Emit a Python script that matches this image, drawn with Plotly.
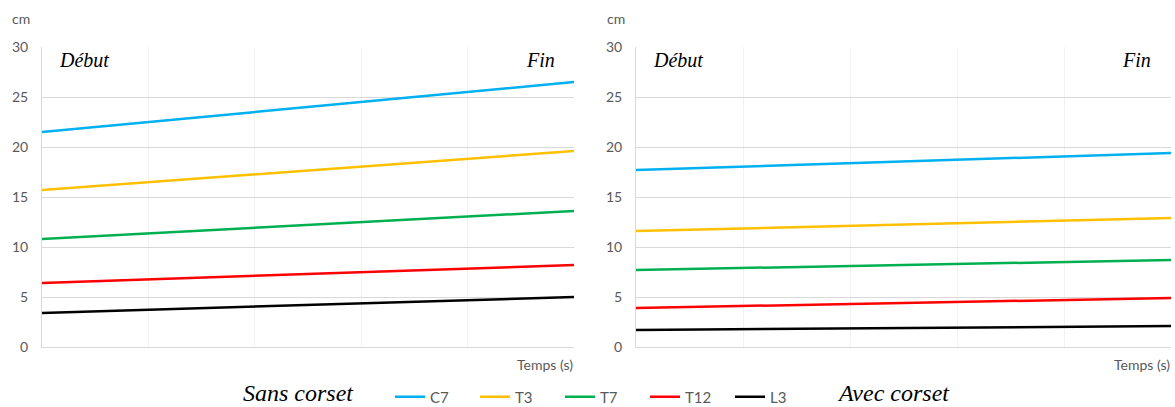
import plotly.graph_objects as go

# time axis (start / end of the recording)
temps = [0, 10]

series = ["C7", "T3", "T7", "T12", "L3"]
colors = ["#00b0f0", "#ffc000", "#00b050", "#ff0000", "#000000"]

# cm, start -> end
sans_corset = {
    "C7": [21.5, 26.5],
    "T3": [15.7, 19.6],
    "T7": [10.8, 13.6],
    "T12": [6.4, 8.2],
    "L3": [3.4, 5.0],
}
avec_corset = {
    "C7": [17.7, 19.4],
    "T3": [11.6, 12.9],
    "T7": [7.7, 8.7],
    "T12": [3.9, 4.9],
    "L3": [1.7, 2.1],
}

W, H = 1175, 407
grid = "#d9d9d9"
sans = "Lato, 'Open Sans', sans-serif"
tick_font = dict(family=sans, size=14, color="#595959")
serif_it = "'Liberation Serif', 'DejaVu Serif', serif"

fig = go.Figure()

for name, color in zip(series, colors):
    fig.add_trace(
        go.Scatter(
            x=temps,
            y=sans_corset[name],
            mode="lines",
            line=dict(color=color, width=2.5),
            name=name,
            xaxis="x",
            yaxis="y",
        )
    )
for name, color in zip(series, colors):
    fig.add_trace(
        go.Scatter(
            x=temps,
            y=avec_corset[name],
            mode="lines",
            line=dict(color=color, width=2.5),
            name=name,
            showlegend=False,
            xaxis="x2",
            yaxis="y2",
        )
    )

ydom = [1 - 347 / H, 1 - 47 / H]
xdom1 = [42 / W, 574 / W]
xdom2 = [636 / W, 1171 / W]

xaxis_style = dict(
    range=[0, 10],
    dtick=2,
    showgrid=True,
    gridcolor="#f2f2f2",
    gridwidth=1,
    showline=True,
    linecolor=grid,
    linewidth=1,
    zeroline=False,
    showticklabels=False,
    ticks="",
)
yaxis_style = dict(
    range=[0, 30],
    dtick=5,
    showgrid=True,
    gridcolor=grid,
    gridwidth=1,
    showline=True,
    linecolor=grid,
    linewidth=1,
    zeroline=False,
    ticks="",
    ticklabelstandoff=10,
    tickfont=tick_font,
    automargin=False,
)

fig.update_layout(
    xaxis=dict(domain=xdom1, anchor="y", **xaxis_style),
    yaxis=dict(domain=ydom, anchor="x", **yaxis_style),
    xaxis2=dict(domain=xdom2, anchor="y2", **xaxis_style),
    yaxis2=dict(domain=ydom, anchor="x2", **yaxis_style),
    width=W,
    height=H,
    margin=dict(l=0, r=0, t=0, b=0, autoexpand=False),
    paper_bgcolor="#ffffff",
    plot_bgcolor="#ffffff",
    showlegend=True,
    legend=dict(
        orientation="h",
        x=390 / W,
        xanchor="left",
        y=1 - 397 / H,
        yanchor="middle",
        entrywidth=40,
        entrywidthmode="pixels",
        itemwidth=30,
        font=dict(family=sans, size=15, color="#595959"),
        bgcolor="rgba(255,255,255,0)",
    ),
)

notes = [
    (21, 18, "cm"),
    (616, 18, "cm"),
    (545, 364, "Temps (s)"),
    (1142, 364, "Temps (s)"),
]
for x, y, text in notes:
    fig.add_annotation(
        x=x / W, y=1 - y / H, xref="paper", yref="paper",
        text=text, showarrow=False, font=tick_font, xanchor="center", yanchor="middle",
    )

label_font = dict(family=serif_it, size=20, color="#000000")
for x, y, text, anchor in [
    (57, 60, "<i>Début</i>", "left"),
    (557, 60, "<i>Fin</i>", "right"),
    (651, 60, "<i>Début</i>", "left"),
    (1153, 60, "<i>Fin</i>", "right"),
]:
    fig.add_annotation(
        x=x / W, y=1 - y / H, xref="paper", yref="paper",
        text=text, showarrow=False, font=label_font, xanchor=anchor, yanchor="middle",
    )

big_font = dict(family=serif_it, size=24, color="#000000")
for x, text in [(298, "<i>Sans corset</i>"), (893, "<i>Avec corset</i>")]:
    fig.add_annotation(
        x=x / W, y=1 - 393 / H, xref="paper", yref="paper",
        text=text, showarrow=False, font=big_font, xanchor="center", yanchor="middle",
        borderpad=0,
    )

fig.write_html(
    "out.html",
    config={"displayModeBar": False},
    post_script="document.body.style.margin='0';",
)
